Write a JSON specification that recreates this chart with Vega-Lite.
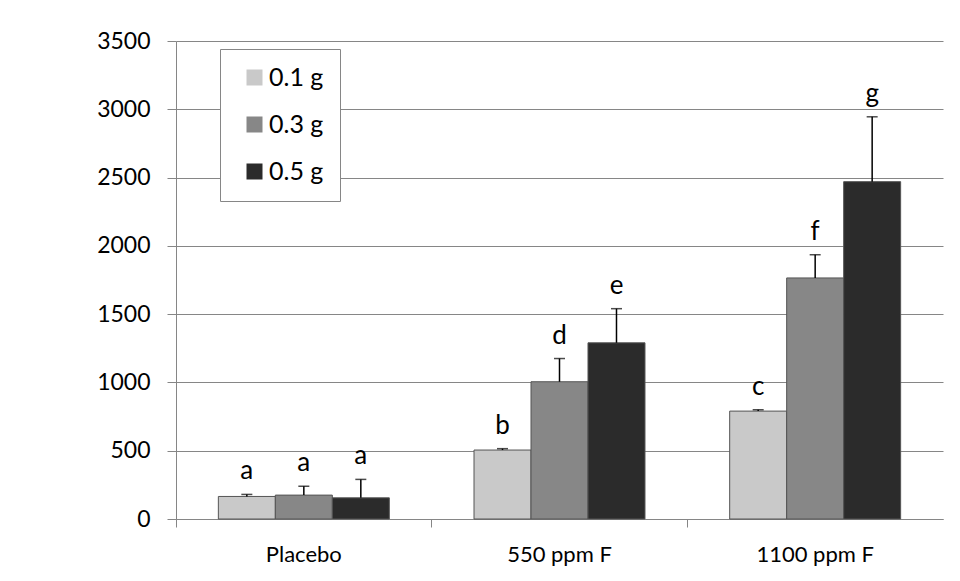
{
  "$schema": "https://vega.github.io/schema/vega-lite/v6.json",
  "width": 767,
  "height": 478,
  "autosize": "none",
  "padding": {"left": 176, "top": 41, "right": 17, "bottom": 62},
  "background": "white",
  "config": {"view": {"stroke": null}, "font": "Lato"},
  "data": {
    "values": [
      {"group": "Placebo", "dose": "0.1 g", "value": 165, "upper": 180, "letter": "a"},
      {"group": "Placebo", "dose": "0.3 g", "value": 175, "upper": 240, "letter": "a"},
      {"group": "Placebo", "dose": "0.5 g", "value": 155, "upper": 290, "letter": "a"},
      {"group": "550 ppm F", "dose": "0.1 g", "value": 505, "upper": 515, "letter": "b"},
      {"group": "550 ppm F", "dose": "0.3 g", "value": 1005, "upper": 1175, "letter": "d"},
      {"group": "550 ppm F", "dose": "0.5 g", "value": 1290, "upper": 1540, "letter": "e"},
      {"group": "1100 ppm F", "dose": "0.1 g", "value": 790, "upper": 800, "letter": "c"},
      {"group": "1100 ppm F", "dose": "0.3 g", "value": 1765, "upper": 1935, "letter": "f"},
      {"group": "1100 ppm F", "dose": "0.5 g", "value": 2470, "upper": 2945, "letter": "g"}
    ]
  },
  "encoding": {
    "x": {
      "field": "group",
      "type": "nominal",
      "sort": ["Placebo", "550 ppm F", "1100 ppm F"],
      "scale": {"paddingInner": 0, "paddingOuter": 0},
      "axis": {
        "title": null,
        "labelAngle": 0,
        "bandPosition": 0,
        "tickSize": 8,
        "tickColor": "#868686",
        "domainColor": "#868686",
        "labelFontSize": 22,
        "labelColor": "black",
        "labelPadding": 17,
        "grid": false
      }
    },
    "xOffset": {
      "field": "dose",
      "type": "nominal",
      "sort": ["0.1 g", "0.3 g", "0.5 g"],
      "scale": {"paddingInner": 0, "paddingOuter": 0.743}
    }
  },
  "layer": [
    {
      "mark": {"type": "bar", "stroke": "#555555", "strokeWidth": 1},
      "encoding": {
        "y": {
          "field": "value",
          "type": "quantitative",
          "scale": {"domain": [0, 3500]},
          "axis": {
            "title": null,
            "values": [0, 500, 1000, 1500, 2000, 2500, 3000, 3500],
            "format": "d",
            "grid": true,
            "gridColor": "#868686",
            "gridOpacity": 1,
            "domainColor": "#868686",
            "tickColor": "#868686",
            "tickSize": 9,
            "labelFontSize": 23,
            "labelColor": "black",
            "labelPadding": 17
          }
        },
        "color": {
          "field": "dose",
          "type": "nominal",
          "sort": ["0.1 g", "0.3 g", "0.5 g"],
          "scale": {"range": ["#c9c9c9", "#878787", "#2b2b2b"]},
          "legend": {
            "title": null,
            "orient": "none",
            "legendX": 44,
            "legendY": 8,
            "strokeColor": "#868686",
            "fillColor": "white",
            "padding": 16,
            "symbolType": "square",
            "symbolSize": 256,
            "symbolOffset": 6,
            "symbolStrokeWidth": 0,
            "labelFontSize": 25,
            "labelColor": "black",
            "labelOffset": 2,
            "rowPadding": 21
          }
        }
      }
    },
    {
      "mark": {"type": "rule", "color": "black", "strokeWidth": 1.5},
      "encoding": {
        "y": {"field": "value", "type": "quantitative"},
        "y2": {"field": "upper"}
      }
    },
    {
      "mark": {"type": "tick", "color": "black", "thickness": 1.5, "size": 11},
      "encoding": {
        "y": {"field": "upper", "type": "quantitative"}
      }
    },
    {
      "mark": {"type": "text", "baseline": "bottom", "dy": -10, "fontSize": 26, "color": "black"},
      "encoding": {
        "y": {"field": "upper", "type": "quantitative"},
        "text": {"field": "letter"}
      }
    }
  ]
}
